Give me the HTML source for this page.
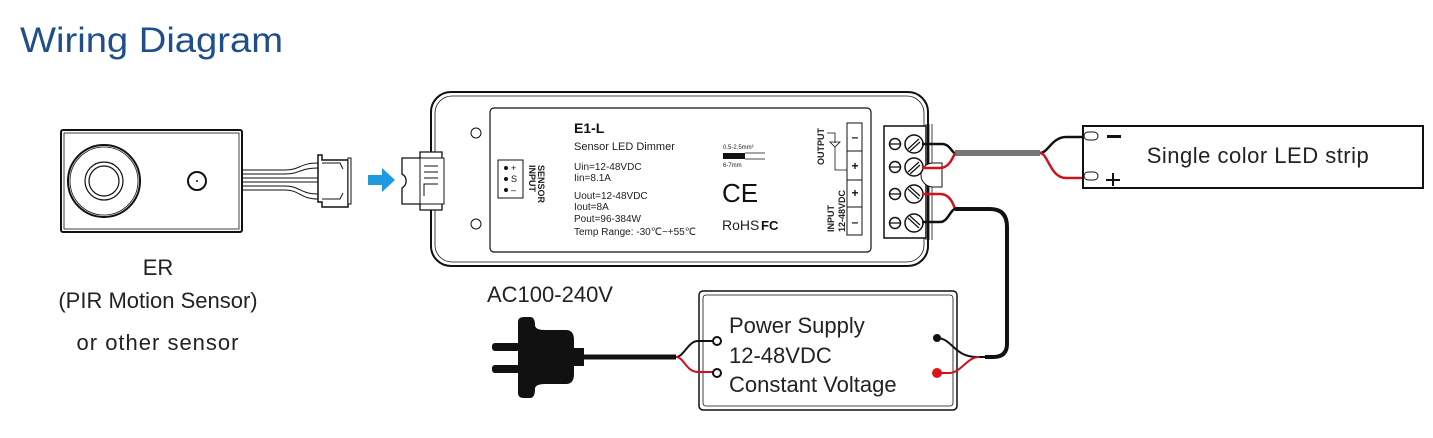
<!DOCTYPE html>
<html><head><meta charset="utf-8"><style>
html,body{margin:0;padding:0;background:#fff;width:1433px;height:438px;overflow:hidden}
svg{display:block}
text{font-family:"Liberation Sans",sans-serif}
</style></head><body>
<svg width="1433" height="438" viewBox="0 0 1433 438" xmlns="http://www.w3.org/2000/svg">
<text x="20" y="52" font-size="35" fill="#1f4e8c" textLength="263" lengthAdjust="spacingAndGlyphs">Wiring Diagram</text>

<!-- sensor -->
<rect x="61" y="130" width="181" height="102" rx="2" fill="#fff" stroke="#111" stroke-width="2"/>
<rect x="64" y="133" width="175" height="96" fill="none" stroke="#111" stroke-width="0.8"/>
<circle cx="104" cy="181" r="36" fill="none" stroke="#111" stroke-width="2"/>
<circle cx="104" cy="181" r="34" fill="none" stroke="#111" stroke-width="0.8"/>
<circle cx="104" cy="181" r="19" fill="none" stroke="#111" stroke-width="1.2"/>
<circle cx="104" cy="181" r="15" fill="none" stroke="#111" stroke-width="1.2"/>
<circle cx="197" cy="181" r="9" fill="none" stroke="#111" stroke-width="2"/>
<circle cx="197" cy="181" r="1" fill="#111"/>
<g fill="none" stroke="#111" stroke-width="1">
<path d="M242 170 H285 C300 170 300 163 318 163"/><path d="M242 174 H285 C300 174 300 168 318 168"/>
<path d="M242 178 H318"/><path d="M242 182 H318"/>
<path d="M242 186 H285 C300 186 300 194 318 194"/><path d="M242 190 H285 C300 190 300 199 318 199"/>
</g>
<path d="M318 155 h4 v5 h26 v47 h-26 v-5 h-4 z" fill="#fff" stroke="#111" stroke-width="1.5"/>
<rect x="348" y="158" width="3" height="46" fill="#fff" stroke="#111"/>
<path d="M322 163 h18 l3 6 M322 199 h18 l3 -6" fill="none" stroke="#111"/>
<path d="M368 175 h14 v-7 l13 12 l-13 12 v-7 h-14 z" fill="#1e9be0"/>
<text x="158" y="275" font-size="22" fill="#222" text-anchor="middle">ER</text>
<text x="158" y="308" font-size="22" fill="#222" text-anchor="middle">(PIR Motion Sensor)</text>
<text x="158" y="350" font-size="22" fill="#222" text-anchor="middle" letter-spacing="1">or other sensor</text>

<!-- controller -->
<rect x="431" y="92" width="497" height="174" rx="20" fill="#fff" stroke="#111" stroke-width="2"/>
<rect x="435" y="96" width="489" height="166" rx="17" fill="none" stroke="#111" stroke-width="0.8"/>
<rect x="490" y="108" width="381" height="144" rx="4" fill="#fff" stroke="#111" stroke-width="1.2"/>
<circle cx="476" cy="133" r="5" fill="none" stroke="#111"/>
<circle cx="476" cy="224" r="5" fill="none" stroke="#111"/>
<path d="M402 158 h18 v-6 h22 v58 h-22 v-6 h-18 v-16 a8 8 0 0 0 0 -14 z" fill="#fff" stroke="#111" stroke-width="1.3"/>
<rect x="420" y="158" width="24" height="46" fill="#fff" stroke="#111"/>
<path d="M424 166 h14 M424 172 h14 M424 178 h14 M424 196 v-12 h14" stroke="#111" fill="none"/>
<rect x="498" y="160" width="25" height="38" fill="#fff" stroke="#111"/>
<g font-size="9" fill="#111"><circle cx="506" cy="168" r="2"/><circle cx="506" cy="179" r="2"/><circle cx="506" cy="190" r="2"/>
<text x="511" y="171">+</text><text x="511" y="182">S</text><text x="511" y="193">–</text></g>
<text transform="translate(538,165) rotate(90)" font-size="9" font-weight="bold" fill="#222">SENSOR</text>
<text transform="translate(529,165) rotate(90)" font-size="9" font-weight="bold" fill="#222">INPUT</text>
<text x="574" y="133" font-size="14" font-weight="bold" fill="#111">E1-L</text>
<g font-size="10" fill="#222">
<text x="574" y="150" font-size="11">Sensor LED Dimmer</text>
<text x="574" y="170">Uin=12-48VDC</text><text x="574" y="181">Iin=8.1A</text>
<text x="574" y="199">Uout=12-48VDC</text><text x="574" y="210">Iout=8A</text>
<text x="574" y="222">Pout=96-384W</text><text x="574" y="235">Temp Range: -30℃~+55℃</text>
</g>
<text x="723" y="149" font-size="6" fill="#222">0.5-2.5mm²</text>
<rect x="723" y="153" width="22" height="6" fill="#111"/><path d="M745 153 h20 M745 159 h20" stroke="#111" stroke-width="0.8"/>
<text x="723" y="167" font-size="6" fill="#222">6-7mm</text>
<text x="722" y="202" font-size="26" fill="#111">CE</text>
<text x="722" y="230" font-size="14" fill="#222">RoHS</text>
<text x="761" y="230" font-size="13" font-weight="bold" fill="#111">FC</text>
<text transform="translate(824,165) rotate(-90)" font-size="9" font-weight="bold" fill="#222">OUTPUT</text>
<text transform="translate(834,232) rotate(-90)" font-size="9" font-weight="bold" fill="#222">INPUT</text>
<text transform="translate(845,232) rotate(-90)" font-size="9" font-weight="bold" fill="#222">12-48VDC</text>
<path d="M827 133 h8 v10 m0 4 v23 h12" stroke="#111" fill="none" stroke-width="0.8"/>
<path d="M830 142 h10 l-5 5 z" fill="none" stroke="#111" stroke-width="0.8"/>
<rect x="847" y="123" width="15" height="112" fill="#fff" stroke="#111"/>
<path d="M847 151 h15 M847 180 h15 M847 207 h15" stroke="#111"/>
<g font-size="12" font-weight="bold" fill="#111" text-anchor="middle">
<text x="855" y="141">–</text><text x="855" y="170">+</text><text x="855" y="197">+</text><text x="855" y="226">–</text></g>

<!-- terminal block -->
<rect x="884" y="126" width="42" height="112" fill="#fff" stroke="#111" stroke-width="1.5"/>
<path d="M926 124 v116 M929 124 v116 M932 124 v116" stroke="#111" stroke-width="0.8"/>
<path d="M933 163 h9 v24 h-9 a8 8 0 0 1 0 -24" fill="#fff" stroke="#111"/>
<g stroke="#111" fill="#fff" stroke-width="1.5">
<circle cx="895" cy="144" r="5.5"/><circle cx="914" cy="144" r="9"/>
<circle cx="895" cy="167" r="5.5"/><circle cx="914" cy="167" r="9"/>
<circle cx="895" cy="194" r="5.5"/><circle cx="914" cy="194" r="9"/>
<circle cx="895" cy="223" r="5.5"/><circle cx="914" cy="223" r="9"/>
</g>
<g stroke="#111" stroke-width="1.2">
<path d="M890 144 h10 M890 167 h10 M890 194 h10 M890 223 h10"/>
<path d="M908 149 l11 -10 M910 151 l10 -9 M908 172 l11 -10 M910 174 l10 -9"/>
<path d="M908 189 l11 10 M910 187 l10 9 M908 218 l11 10 M910 216 l10 9"/>
</g>
<!-- output wires -->
<rect x="955" y="150" width="85" height="6" fill="#777"/>
<path d="M922 144 h20 c8 0 10 9 13 9" stroke="#111" stroke-width="2.5" fill="none"/>
<path d="M922 168 h18 c8 0 12 -8 15 -15" stroke="#d0121b" stroke-width="2.5" fill="none"/>
<path d="M1040 153 c8 0 12 -16 26 -16 h17" stroke="#111" stroke-width="2.5" fill="none"/>
<path d="M1040 153 c8 0 10 25 26 25 h17" stroke="#d0121b" stroke-width="2.5" fill="none"/>
<!-- input wires -->
<path d="M922 194 h18 c8 0 12 6 15 15" stroke="#d0121b" stroke-width="2.5" fill="none"/>
<path d="M922 222 h18 c8 0 10 -12 15 -13" stroke="#111" stroke-width="2.5" fill="none"/>
<path d="M955 209 h35 q17 0 17 18 v117 q0 13 -14 13 h-8" stroke="#111" stroke-width="4" fill="none"/>

<!-- LED strip -->
<rect x="1083" y="126" width="340" height="62" fill="#fff" stroke="#111" stroke-width="2"/>
<rect x="1084" y="132" width="14" height="8" rx="4" fill="#fff" stroke="#111"/>
<rect x="1084" y="172" width="14" height="8" rx="4" fill="#fff" stroke="#111"/>
<rect x="1107" y="135" width="14" height="3" fill="#111"/>
<path d="M1106 180 h14 M1113 173 v13" stroke="#111" stroke-width="2"/>
<text x="1258" y="163" font-size="22" fill="#222" text-anchor="middle" letter-spacing="0.5">Single color LED strip</text>

<!-- power supply -->
<text x="487" y="302" font-size="22" fill="#222">AC100-240V</text>
<rect x="699" y="291" width="258" height="119" rx="4" fill="#fff" stroke="#111" stroke-width="1.5"/>
<rect x="703" y="295" width="250" height="111" rx="3" fill="none" stroke="#111" stroke-width="0.8"/>
<g font-size="22" fill="#222">
<text x="729" y="333">Power Supply</text>
<text x="729" y="363">12-48VDC</text>
<text x="729" y="392">Constant Voltage</text></g>
<path d="M580 357 h96" stroke="#111" stroke-width="5"/>
<path d="M676 357 c8 0 12 -16 22 -16 h19" stroke="#111" stroke-width="2" fill="none"/>
<path d="M676 357 c8 0 10 15 22 15 h19" stroke="#d0121b" stroke-width="2" fill="none"/>
<circle cx="717" cy="341" r="4" fill="#fff" stroke="#111" stroke-width="2"/>
<circle cx="717" cy="373" r="4" fill="#fff" stroke="#111" stroke-width="2"/>
<path d="M518 322 q0 -5 6 -5 h6 q5 0 5 8 q0 5 10 5 h21 q8 0 8 10 v34 q0 10 -8 10 h-21 q-10 0 -10 5 q0 9 -5 9 h-6 q-6 0 -6 -5 z" fill="#111"/>
<rect x="574" y="348" width="10" height="18" fill="#111"/>
<rect x="492" y="343" width="28" height="8" rx="3" fill="#111"/>
<rect x="492" y="365" width="28" height="8" rx="3" fill="#111"/>
<circle cx="937" cy="338" r="4" fill="#111"/>
<circle cx="937" cy="373" r="5" fill="#e0121b"/>
<path d="M937 338 c15 0 17 19 40 19 h10" stroke="#111" stroke-width="2" fill="none"/>
<path d="M937 373 h12 c12 0 18 -16 30 -16" stroke="#d0121b" stroke-width="2" fill="none"/>
</svg>
</body></html>
